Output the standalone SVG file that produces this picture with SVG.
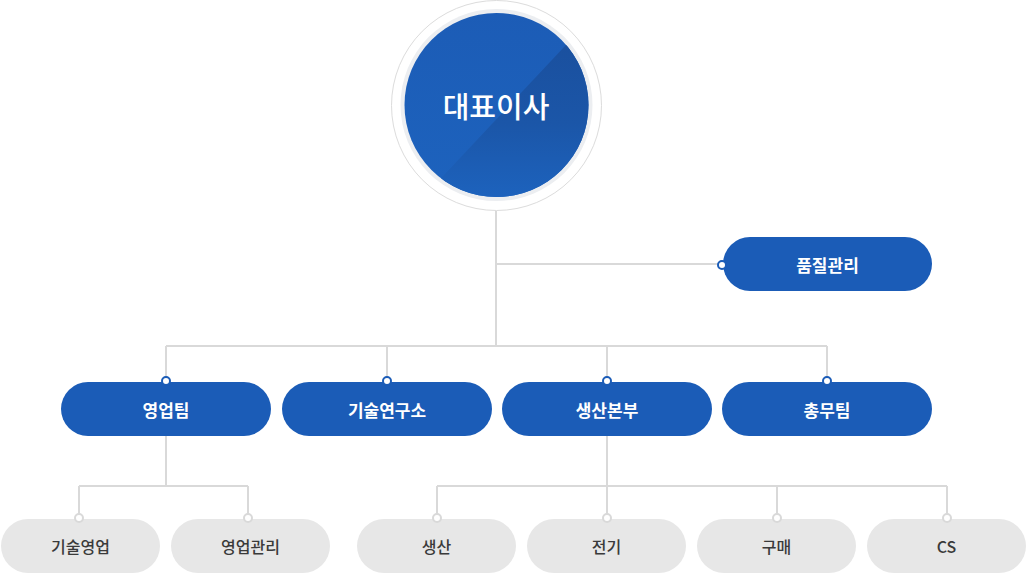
<svg xmlns="http://www.w3.org/2000/svg" width="1027" height="574" viewBox="0 0 1027 574">
<style>
.ln{fill:none;stroke:#d9d9d9;stroke-width:2}
.bp{fill:#1b5cb7}
.gp{fill:#e7e7e7}
.bt{fill:#fff;font-family:"Noto Sans CJK KR","Noto Sans",sans-serif;font-size:17px;font-weight:700;text-anchor:middle;dominant-baseline:central}
.gt{fill:#3a3a3a;font-family:"Noto Sans CJK KR","Noto Sans",sans-serif;font-size:16px;font-weight:500;text-anchor:middle;dominant-baseline:central}
.bd{fill:#fff;stroke:#1b5cb7;stroke-width:2}
.gd{fill:#fff;stroke:#d9d9d9;stroke-width:2}
</style>
<defs>
<clipPath id="cc"><circle cx="496.5" cy="105" r="92"/></clipPath>
<linearGradient id="g1" x1="0" y1="0" x2="0" y2="1">
<stop offset="0" stop-color="#1c5cb6"/><stop offset="1" stop-color="#1d63be"/>
</linearGradient>
<linearGradient id="g2" gradientUnits="userSpaceOnUse" x1="0" y1="30" x2="0" y2="200">
<stop offset="0" stop-color="#1a4f9d"/><stop offset="0.55" stop-color="#1b56a8"/><stop offset="1" stop-color="#1d63be"/>
</linearGradient>
</defs>
<rect width="1027" height="574" fill="#fff"/>
<g id="connectors">
<path class="ln" d="M496 211V346M496 264H722M166 346H827M166 346V381M387 346V381M607 346V381M827 346V381"/>
<path class="ln" d="M166 436V486M79 486H248M79 486V518M248 486V518"/>
<path class="ln" d="M607 436V486M437 486H947M437 486V518M607 486V518M777 486V518M947 486V518"/>
</g>
<g id="ceo">
<circle cx="496.5" cy="105.5" r="105" fill="#fff" stroke="#dcdcdc" stroke-width="1"/>
<circle cx="496.5" cy="105" r="96" fill="#eceef1"/>
<g clip-path="url(#cc)">
<rect x="400" y="10" width="200" height="200" fill="url(#g1)"/>
<polygon points="430,190 580,30 600,30 600,210 430,210" fill="url(#g2)"/>
</g>
<text x="496" y="105" class="bt" style="font-size:29px;font-weight:500">대표이사</text>
</g>
<g id="qa">
<rect class="bp" x="723" y="237" width="209" height="54" rx="27"/>
<circle class="bd" cx="722" cy="265" r="4"/>
<text class="bt" x="827.5" y="264">품질관리</text>
</g>
<g id="sales">
<rect class="bp" x="61" y="382" width="210" height="54" rx="27"/>
<circle class="bd" cx="166" cy="381" r="4"/>
<text class="bt" x="166" y="409">영업팀</text>
</g>
<g id="rnd">
<rect class="bp" x="282" y="382" width="210" height="54" rx="27"/>
<circle class="bd" cx="387" cy="381" r="4"/>
<text class="bt" x="387" y="409">기술연구소</text>
</g>
<g id="prod">
<rect class="bp" x="502" y="382" width="210" height="54" rx="27"/>
<circle class="bd" cx="607" cy="381" r="4"/>
<text class="bt" x="607" y="409">생산본부</text>
</g>
<g id="admin">
<rect class="bp" x="722" y="382" width="210" height="54" rx="27"/>
<circle class="bd" cx="827" cy="381" r="4"/>
<text class="bt" x="827" y="409">총무팀</text>
</g>
<g id="techsales">
<rect class="gp" x="1" y="519" width="159" height="54" rx="27"/>
<circle class="gd" cx="79" cy="518" r="4"/>
<text class="gt" x="80.5" y="546">기술영업</text>
</g>
<g id="salesmgmt">
<rect class="gp" x="171" y="519" width="159" height="54" rx="27"/>
<circle class="gd" cx="248" cy="518" r="4"/>
<text class="gt" x="250.5" y="546">영업관리</text>
</g>
<g id="production">
<rect class="gp" x="357" y="519" width="159" height="54" rx="27"/>
<circle class="gd" cx="437" cy="518" r="4"/>
<text class="gt" x="436.5" y="546">생산</text>
</g>
<g id="electric">
<rect class="gp" x="527" y="519" width="159" height="54" rx="27"/>
<circle class="gd" cx="607" cy="518" r="4"/>
<text class="gt" x="606.5" y="546">전기</text>
</g>
<g id="purchase">
<rect class="gp" x="697" y="519" width="159" height="54" rx="27"/>
<circle class="gd" cx="777" cy="518" r="4"/>
<text class="gt" x="776.5" y="546">구매</text>
</g>
<g id="cs">
<rect class="gp" x="867" y="519" width="159" height="54" rx="27"/>
<circle class="gd" cx="947" cy="518" r="4"/>
<text class="gt" x="946.5" y="546">CS</text>
</g>
</svg>
